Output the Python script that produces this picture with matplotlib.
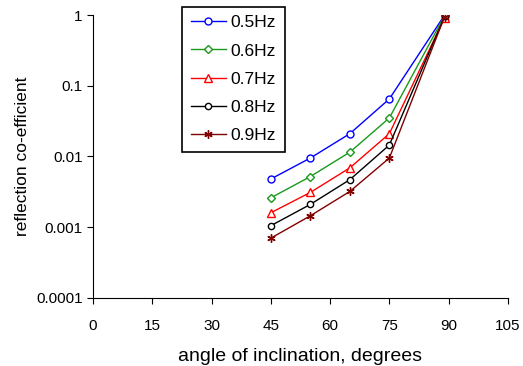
import matplotlib.pyplot as plt

plt.rcParams['font.family'] = ['Liberation Sans', 'DejaVu Sans']

# angle of inclination (degrees)
angles = [45, 55, 65, 75, 89]

# reflection co-efficient for each frequency
r_05 = [0.0048, 0.0095, 0.021, 0.065, 1.0]
r_06 = [0.0026, 0.0052, 0.0115, 0.035, 0.98]
r_07 = [0.0016, 0.0031, 0.0069, 0.021, 0.92]
r_08 = [0.00105, 0.0021, 0.0047, 0.0145, 0.96]
r_09 = [0.0007, 0.00145, 0.0032, 0.0095, 0.95]

labels = ["0.5Hz", "0.6Hz", "0.7Hz", "0.8Hz", "0.9Hz"]
xticks = [0, 15, 30, 45, 60, 75, 90, 105]
yticks = [0.0001, 0.001, 0.01, 0.1, 1]
ytick_labels = ["0.0001", "0.001", "0.01", "0.1", "1"]

fig = plt.figure(figsize=(5.23, 3.66), dpi=100)
ax = fig.add_axes([0.178, 0.186, 0.793, 0.773])

ax.plot(angles, r_05, color="#0000ff", marker="o", mfc="white", ms=5, lw=1, label=labels[0])
ax.plot(angles, r_06, color="#1a9a1a", marker="D", mfc="white", ms=4.5, lw=1, label=labels[1])
ax.plot(angles, r_07, color="#ff0000", marker="^", mfc="white", ms=6, lw=1, label=labels[2])
ax.plot(angles, r_08, color="black", marker="o", mfc="white", ms=4.5, lw=1, label=labels[3])
ax.plot(angles, r_09, color="#800000", marker=(6, 2, 0), ms=6, lw=1, label=labels[4])

ax.set_yscale("log")
ax.set_xlim(0, 105)
ax.set_ylim(0.0001, 1)
ax.set_xticks(xticks)
ax.set_yticks(yticks)
ax.set_yticklabels(ytick_labels)
ax.minorticks_off()
ax.tick_params(labelsize=11, length=4)
ax.tick_params(axis="x", pad=11)

ax.spines["top"].set_visible(False)
ax.spines["right"].set_visible(False)

ax.set_xlabel("angle of inclination, degrees", fontsize=14, labelpad=11)
ax.set_ylabel("reflection co-efficient", fontsize=12.5)

leg = ax.legend(loc="upper left", bbox_to_anchor=(0.215, 1.03), fontsize=12.5,
                fancybox=False, framealpha=1, edgecolor="black",
                handlelength=2.0, handletextpad=0.3, borderpad=0.5,
                labelspacing=0.75, borderaxespad=0)
leg.get_frame().set_linewidth(1.2)

fig.savefig("out.png", dpi=100)
